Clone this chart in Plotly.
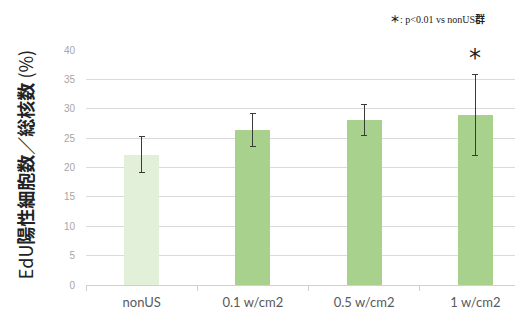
import plotly.graph_objects as go

categories = ["nonUS", "0.1 w/cm2", "0.5 w/cm2", "1 w/cm2"]
values = [22.2, 26.4, 28.1, 29.0]
errors = [3.0, 2.8, 2.7, 6.9]
bar_colors = ["#e2efd9", "#a9d18e", "#a9d18e", "#a9d18e"]
y_ticks = [0, 5, 10, 15, 20, 25, 30, 35, 40]
y_title = "EdU<b>陽性細胞数／総核数</b> (%)"
note = ("<span style='font-family:Noto Sans CJK JP'><b>＊</b></span>: p<0.01 vs nonUS"
        "<span style='font-family:Noto Sans CJK JP'><b>群</b></span>")
sig_index = 3

fig = go.Figure()
fig.add_trace(go.Bar(
    x=categories, y=values,
    marker=dict(color=bar_colors, line=dict(width=0)),
    width=0.315,
    error_y=dict(type="data", array=errors, visible=True,
                 color="#3a3a3a", thickness=1, width=3),
))

fig.add_annotation(x=categories[sig_index], y=values[sig_index] + errors[sig_index],
                   yref="y", xref="x", text="*", showarrow=False,
                   yanchor="bottom", yshift=0,
                   font=dict(family="DejaVu Sans", size=24, color="#222222"))

fig.add_annotation(xref="paper", yref="paper", x=0.679, y=1.0, yshift=32,
                   text=note, showarrow=False, xanchor="left", yanchor="middle",
                   font=dict(family="Liberation Serif", size=10, color="#222222"))

fig.add_annotation(xref="paper", yref="paper", x=-0.137, y=0.51,
                   text=y_title, showarrow=False, textangle=-90,
                   xanchor="center", yanchor="middle",
                   font=dict(family="Noto Sans CJK JP", size=18, color="#222222"))

fig.update_layout(
    width=523, height=321,
    margin=dict(l=78, r=0, t=42, b=44),
    paper_bgcolor="white", plot_bgcolor="white",
    showlegend=False,
    bargap=0,
)
fig.update_xaxes(
    range=[-0.5, 3.5],
    showline=True, linecolor="#d0d0d0", linewidth=1,
    ticks="outside", tickson="boundaries", ticklen=5, tickcolor="#d0d0d0",
    tickfont=dict(family="Lato", size=13, color="#595959"),
    ticklabelstandoff=5,
    showgrid=False,
)
fig.update_yaxes(
    range=[0, 40], tickvals=y_ticks,
    showgrid=True, gridcolor="#dadada", gridwidth=1,
    zeroline=False, showline=False,
    tickfont=dict(family="Liberation Sans", size=10, color="#a6a6a6"),
    ticks="", ticklabelstandoff=10,
)

fig.write_html("out.html")
